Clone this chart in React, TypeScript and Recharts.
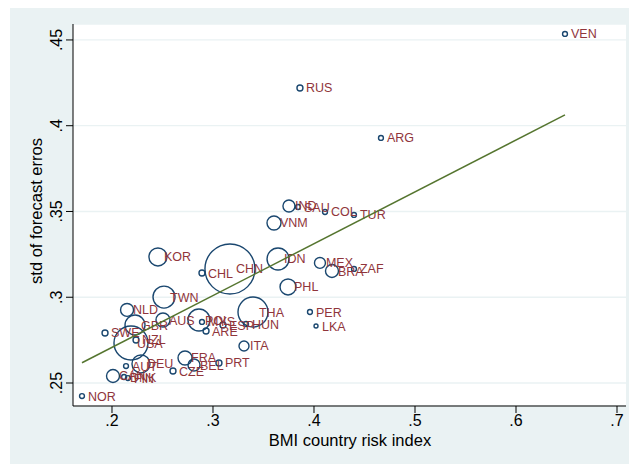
import { ComposedChart, Scatter, XAxis, YAxis, ZAxis, CartesianGrid } from "recharts";

// ── Data ─────────────────────────────────────────────────────────────────
const countries = [
  "VEN", "RUS", "ARG", "IND", "SAU", "COL", "TUR", "VNM", "KOR", "CHL",
  "CHN", "IDN", "PHL", "TWN", "MEX", "BRA", "ZAF", "PER", "LKA", "THA",
  "HUN", "ESP", "ARE", "POL", "MYS", "AUS", "ITA", "FRA", "BEL", "PRT",
  "CZE", "NLD", "SWE", "GBR", "USA", "NZL", "AUT", "DEU", "CAN", "DNK",
  "FIN", "NOR",
];
const riskIndex = [
  0.6485, 0.3861, 0.4663, 0.3752, 0.3842, 0.4109, 0.4396, 0.3604, 0.2455, 0.2891,
  0.3168, 0.3644, 0.3743, 0.2515, 0.4059, 0.4178, 0.4396, 0.396, 0.402, 0.3396,
  0.3327, 0.3099, 0.2931, 0.2861, 0.2891, 0.2505, 0.3307, 0.2723, 0.2812, 0.3059,
  0.2604, 0.2149, 0.1931, 0.2228, 0.2188, 0.2238, 0.2139, 0.2287, 0.201, 0.2119,
  0.2158, 0.1703,
];
const forecastStd = [
  0.4535, 0.422, 0.3929, 0.3532, 0.3526, 0.3497, 0.348, 0.3433, 0.3235, 0.3141,
  0.3165, 0.3223, 0.306, 0.3001, 0.32, 0.3153, 0.3165, 0.2914, 0.2832, 0.2914,
  0.2844, 0.2838, 0.2803, 0.2867, 0.2856, 0.2867, 0.2716, 0.2646, 0.2605, 0.2617,
  0.257, 0.2926, 0.2792, 0.2838, 0.2733, 0.2751, 0.2599, 0.2611, 0.2541, 0.2535,
  0.2529, 0.2424,
];
// marker weights (area of the hollow circle)
const weights = [
  6, 9, 6, 36, 6, 6, 6, 49, 81, 9,
  625, 121, 64, 121, 30, 42, 6, 6, 4, 225,
  6, 9, 9, 121, 6, 49, 25, 49, 36, 9,
  9, 42, 9, 100, 289, 9, 6, 81, 42, 6,
  6, 6,
];
// linear fit end points
const fitX = [0.1703, 0.6485];
const fitY = [0.2618, 0.4063];

const xTicks = [0.2, 0.3, 0.4, 0.5, 0.6, 0.7];
const yTicks = [0.25, 0.3, 0.35, 0.4, 0.45];

const NAVY = "#1a476f";
const MAROON = "#90353b";
const GREEN = "#55752f";
const BG = "#eaf2f3";
const FONT = "'Liberation Sans', Arial, Helvetica, sans-serif";

const points = countries.map((name, i) => ({
  name,
  x: riskIndex[i],
  y: forecastStd[i],
  w: weights[i],
}));
const fitData = fitX.map((x, i) => ({ x, y: fitY[i] }));

const fmt = (v: number) => String(v).replace(/^0/, "");

function Bubble(props: any) {
  const { cx, cy, width } = props;
  return (
    <circle cx={cx} cy={cy} r={Math.max(width / 2, 2)} fill="none" stroke={NAVY} strokeWidth={1.4} />
  );
}

function CountryLabel(props: any) {
  const { cx, cy, payload } = props;
  return (
    <text x={cx + 6} y={cy} dy="0.36em" fontSize={12.5} fill={MAROON} fontFamily={FONT}>
      {payload.name}
    </text>
  );
}

function YTick(props: any) {
  const { x, y, payload } = props;
  return (
    <text
      x={x}
      y={y}
      transform={`rotate(-90 ${x} ${y})`}
      textAnchor="middle"
      fontSize={16}
      fill="#000"
      fontFamily={FONT}
    >
      {fmt(payload.value)}
    </text>
  );
}

export default function App() {
  return (
    <div style={{ position: "absolute", left: 0, top: 0, width: 629, height: 464, background: "#fff" }}>
      <div style={{ position: "absolute", left: 10, top: 8, width: 619, height: 456, background: BG }} />
      <div style={{ position: "absolute", left: 0, top: 0 }}>
        <ComposedChart
          width={629}
          height={464}
          margin={{ top: 24, right: 3, bottom: 8, left: 10 }}
          style={{ fontFamily: FONT }}
        >
          <CartesianGrid vertical={false} stroke={BG} strokeWidth={1.3} fill="#fff" />
          <XAxis
            type="number"
            dataKey="x"
            domain={[0.1614, 0.7089]}
            ticks={xTicks}
            tickFormatter={fmt}
            allowDataOverflow
            height={50}
            tickSize={7}
            tickMargin={2}
            tick={{ fontSize: 16, fill: "#000" }}
            tickLine={{ stroke: "#000" }}
            axisLine={{ stroke: "#000" }}
            label={(p: any) => (
              <text x={350} y={446} textAnchor="middle" fontSize={16.5} fill="#000" fontFamily={FONT}>
                BMI country risk index
              </text>
            )}
          />
          <YAxis
            type="number"
            dataKey="y"
            domain={[0.2366, 0.4593]}
            ticks={yTicks}
            allowDataOverflow
            width={63}
            tickSize={7}
            tickMargin={4}
            tick={<YTick />}
            tickLine={{ stroke: "#000" }}
            axisLine={{ stroke: "#000" }}
            label={(p: any) => (
              <text
                transform="translate(42 211) rotate(-90)"
                textAnchor="middle"
                fontSize={16.5}
                fill="#000"
                fontFamily={FONT}
              >
                std of forecast erros
              </text>
            )}
          />
          <ZAxis type="number" dataKey="w" domain={[0, 625]} range={[0, 1963.5]} />
          <Scatter data={points} shape={<Bubble />} isAnimationActive={false} />
          <Scatter data={points} shape={<CountryLabel />} isAnimationActive={false} />
          <Scatter
            data={fitData}
            line={{ stroke: GREEN, strokeWidth: 1.5 }}
            shape={() => <g />}
            isAnimationActive={false}
          />
        </ComposedChart>
      </div>
    </div>
  );
}
